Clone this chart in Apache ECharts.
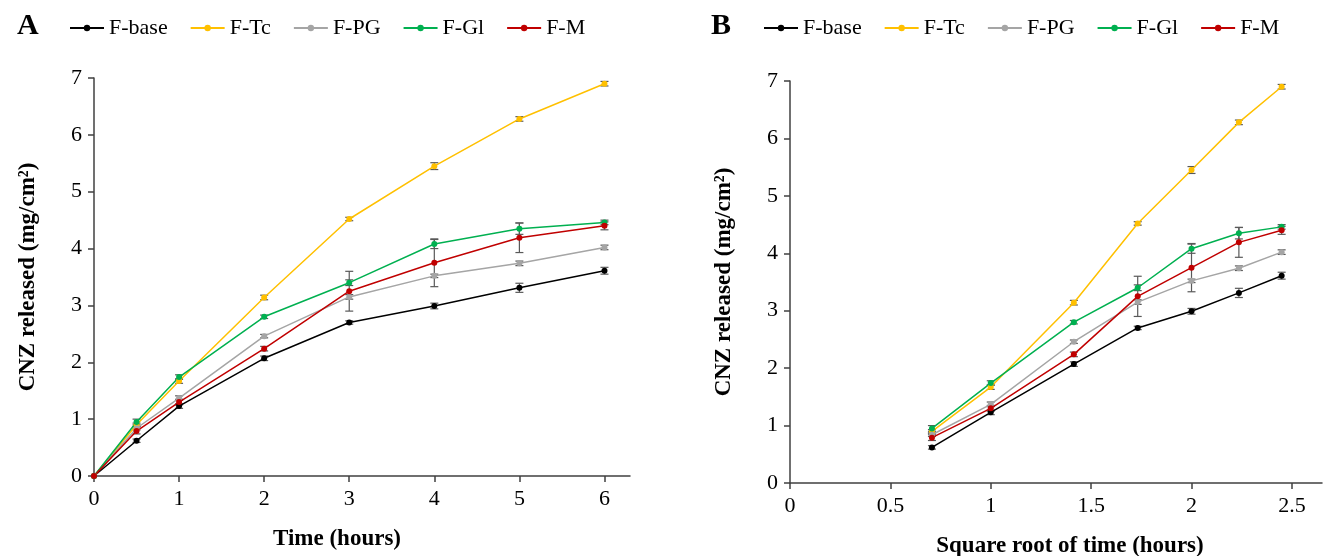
<!DOCTYPE html>
<html>
<head>
<meta charset="utf-8">
<script src="https://cdn.jsdelivr.net/npm/echarts@6/dist/echarts.min.js"></script>
<style>
  html, body { margin: 0; padding: 0; background: #fff; }
</style>
</head>
<body>
<div id="chart" style="width: 1328px; height: 556px;"></div>
<script>
// time points (hours) and their square roots
const timeHours = [0, 0.5, 1, 2, 3, 4, 5, 6];
const sqrtTime = [0, 0.707, 1, 1.414, 1.732, 2, 2.236, 2.449];

const seriesNames = ['F-base', 'F-Tc', 'F-PG', 'F-Gl', 'F-M'];
const seriesColors = ['#000000', '#FFC000', '#A5A5A5', '#00B050', '#C00000'];

// CNZ released (mg/cm2)
const fBase = [0, 0.62, 1.23, 2.07, 2.70, 2.99, 3.31, 3.61];
const fTc = [0, 0.90, 1.67, 3.14, 4.52, 5.45, 6.28, 6.90];
const fPG = [0, 0.84, 1.37, 2.46, 3.15, 3.52, 3.74, 4.02];
const fGl = [0, 0.95, 1.74, 2.80, 3.40, 4.08, 4.35, 4.46];
const fM = [0, 0.79, 1.30, 2.24, 3.25, 3.75, 4.19, 4.40];

// standard deviations
const sdBase = [0, 0.03, 0.04, 0.04, 0.03, 0.05, 0.08, 0.06];
const sdTc = [0, 0.03, 0.04, 0.04, 0.03, 0.06, 0.04, 0.04];
const sdPG = [0, 0.03, 0.04, 0.03, 0.04, 0.03, 0.04, 0.04];
const sdGl = [0, 0.05, 0.04, 0.03, 0.05, 0.08, 0.10, 0.04];
const sdM = [0, 0.05, 0.05, 0.04, 0.35, 0.42, 0.26, 0.07];

const xTicksA = [0, 1, 2, 3, 4, 5, 6];
const xTicksB = [0, 0.5, 1, 1.5, 2, 2.5];

const allValues = [fBase, fTc, fPG, fGl, fM];
const allSd = [sdBase, sdTc, sdPG, sdGl, sdM];

const FONT = '"Liberation Serif", "DejaVu Serif", serif';
const axisColor = '#404040';

const errorBar = (params, api) => {
  const x = api.value(0), y = api.value(1), e = api.value(2);
  if (!e) return;
  const hi = api.coord([x, y + e]);
  const lo = api.coord([x, y - e]);
  const w = 4;
  const style = { stroke: '#595959', lineWidth: 1.2 };
  return {
    type: 'group',
    children: [
      { type: 'line', shape: { x1: hi[0], y1: hi[1], x2: lo[0], y2: lo[1] }, style },
      { type: 'line', shape: { x1: hi[0] - w, y1: hi[1], x2: hi[0] + w, y2: hi[1] }, style },
      { type: 'line', shape: { x1: lo[0] - w, y1: lo[1], x2: lo[0] + w, y2: lo[1] }, style }
    ]
  };
};

const makeX = (gridIndex, max, ticks, name, pad) => ({
  type: 'value',
  gridIndex,
  min: 0,
  max,
  name,
  nameLocation: 'middle',
  nameGap: 52,
  nameTextStyle: { fontFamily: FONT, fontSize: 23, fontWeight: 'bold', color: '#000', padding: pad },
  splitLine: { show: false },
  axisLine: { onZero: false, lineStyle: { color: axisColor, width: 1.5 } },
  axisTick: { customValues: ticks, length: 6, lineStyle: { color: axisColor, width: 1.5 } },
  axisLabel: { customValues: ticks, fontFamily: FONT, fontSize: 22, color: '#000', margin: 12 }
});

const makeY = (gridIndex) => ({
  type: 'value',
  gridIndex,
  min: 0,
  max: 7,
  interval: 1,
  name: 'CNZ released (mg/cm²)',
  nameLocation: 'middle',
  nameGap: 54,
  nameTextStyle: { fontFamily: FONT, fontSize: 23, fontWeight: 'bold', color: '#000' },
  splitLine: { show: false },
  axisLine: { show: true, lineStyle: { color: axisColor, width: 1.5 } },
  axisTick: { show: true, length: 6, lineStyle: { color: axisColor, width: 1.5 } },
  axisLabel: { fontFamily: FONT, fontSize: 22, color: '#000', margin: 12 }
});

const series = [];
[0, 1].forEach(g => {
  const xs = g === 0 ? timeHours : sqrtTime;
  const start = g === 0 ? 0 : 1;
  seriesNames.forEach((name, i) => {
    const pts = [];
    const errs = [];
    for (let k = start; k < xs.length; k++) {
      pts.push([xs[k], allValues[i][k]]);
      errs.push([xs[k], allValues[i][k], allSd[i][k]]);
    }
    series.push({
      type: 'custom',
      name: name + ' sd',
      xAxisIndex: g,
      yAxisIndex: g,
      renderItem: errorBar,
      encode: { x: 0, y: 1 },
      data: errs,
      silent: true,
      z: 1
    });
    series.push({
      type: 'line',
      name,
      xAxisIndex: g,
      yAxisIndex: g,
      data: pts,
      symbol: 'circle',
      symbolSize: 6,
      color: seriesColors[i],
      lineStyle: { width: 1.5, color: seriesColors[i] },
      itemStyle: { color: seriesColors[i] },
      z: 3
    });
  });
});

const legendStyle = (left) => ({
  data: seriesNames,
  left,
  top: 12,
  itemWidth: 34,
  itemHeight: 8,
  itemGap: 22,
  textStyle: { fontFamily: FONT, fontSize: 22, color: '#000' }
});

const option = {
  animation: false,
  color: seriesColors,
  title: [
    { text: 'A', left: 12, top: 6, textStyle: { fontFamily: FONT, fontSize: 30, fontWeight: 'bold', color: '#000' } },
    { text: 'B', left: 706, top: 6, textStyle: { fontFamily: FONT, fontSize: 30, fontWeight: 'bold', color: '#000' } }
  ],
  legend: [legendStyle(64), legendStyle(758)],
  grid: [
    { left: 94, top: 78, width: 536, height: 398, outerBoundsMode: 'none' },
    { left: 790, top: 81, width: 532, height: 402, outerBoundsMode: 'none' }
  ],
  xAxis: [
    makeX(0, 6.3, xTicksA, 'Time (hours)', [0, 50, 0, 0]),
    makeX(1, 2.65, xTicksB, 'Square root of time (hours)', [0, 0, 0, 28])
  ],
  yAxis: [makeY(0), makeY(1)],
  series
};

const myChart = echarts.init(document.getElementById('chart'));
myChart.setOption(option);
</script>
</body>
</html>
